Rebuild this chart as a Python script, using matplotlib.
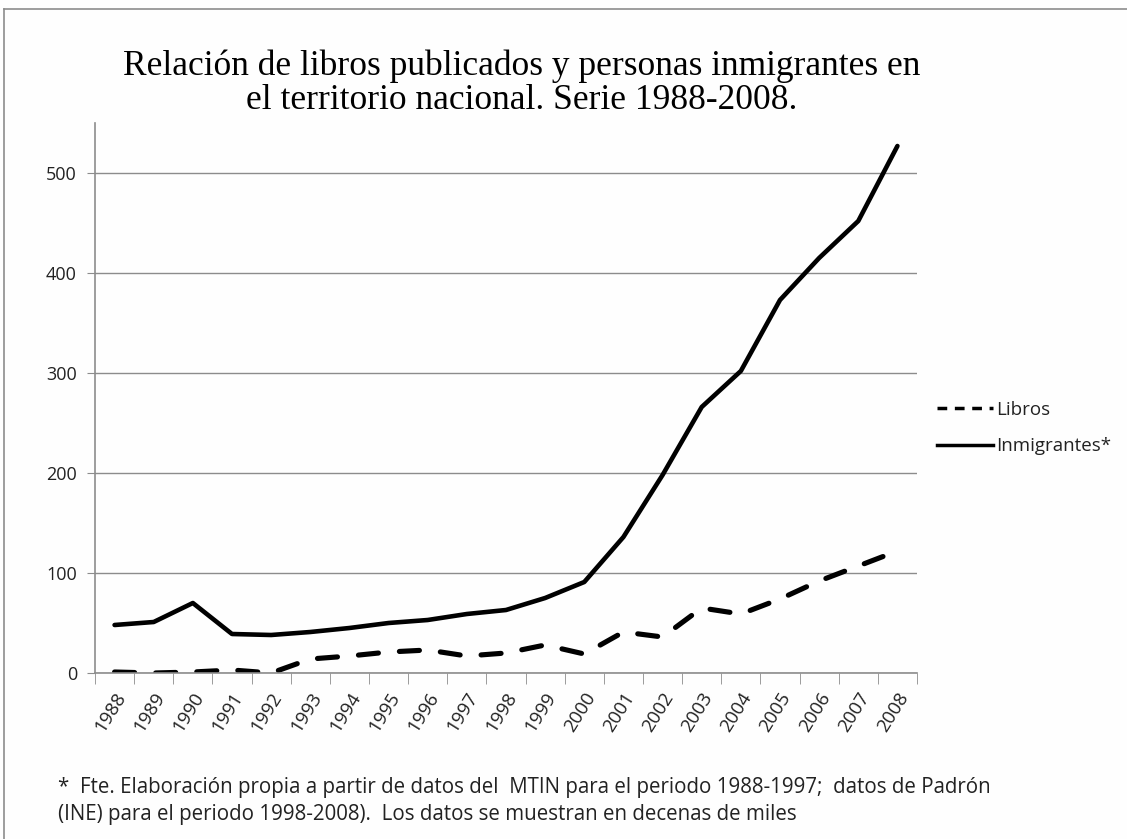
import numpy as np
import matplotlib
matplotlib.use("Agg")
import matplotlib.pyplot as plt
import matplotlib.transforms as mtransforms
from matplotlib.lines import Line2D

# datos (decenas de miles)
years = ['1988', '1989', '1990', '1991', '1992', '1993', '1994', '1995', '1996', '1997',
         '1998', '1999', '2000', '2001', '2002', '2003', '2004', '2005', '2006', '2007', '2008']
libros = [1, 0, 1, 3, 0, 14, 17, 21, 23, 17, 20, 28, 19, 41, 36, 65, 59, 74, 92, 107, 122]
inmigrantes = [48, 51, 70, 39, 38, 41, 45, 50, 53, 59, 63, 75, 91, 136, 198, 266, 302, 373, 415, 452, 527]
yticks = [0, 100, 200, 300, 400, 500]

title = 'Relación de libros publicados y personas inmigrantes en\nel territorio nacional. Serie 1988-2008.'
nota = ('*  Fte. Elaboración propia a partir de datos del  MTIN para el periodo 1988-1997;  datos de Padrón\n'
        '(INE) para el periodo 1998-2008).  Los datos se muestran en decenas de miles')

sans = ['Open Sans', 'DejaVu Sans']
serif = ['Liberation Serif', 'DejaVu Serif']
plt.rcParams['font.family'] = sans

fig = plt.figure(figsize=(11.27, 8.39), dpi=100)
fig.patch.set_facecolor('#fefefe')
ax = fig.add_axes([95 / 1127, 1 - 673 / 839, 822 / 1127, 550 / 839])
ax.set_facecolor('#fefefe')

x = np.arange(len(years))
ax.plot(x, libros, color='black', lw=3.7, dashes=(3.9, 4.1),
        dash_capstyle='round', solid_capstyle='round', label='Libros')
ax.plot(x, inmigrantes, color='black', lw=3.3, solid_capstyle='round',
        solid_joinstyle='round', label='Inmigrantes*')

ax.set_xlim(-0.5, len(years) - 0.5)
ax.set_ylim(0, 550)
ax.set_yticks(yticks)
ax.set_yticklabels([str(v) for v in yticks], fontsize=13, color='#222222')
ax.yaxis.grid(True, color='#8c8c8c', lw=1)
ax.set_axisbelow(True)
ax.tick_params(axis='y', length=6, color='#8c8c8c', pad=7)

# marcas del eje x entre categorías
ax.set_xticks(x)
ax.set_xticks(np.arange(len(years) + 1) - 0.5, minor=True)
ax.tick_params(axis='x', which='major', length=0, pad=15)
ax.tick_params(axis='x', which='minor', length=8, color='#8c8c8c')
ax.set_xticklabels(years, rotation=58, ha='right', va='center',
                   rotation_mode='anchor', fontsize=13.5, color='#222222')
offset = mtransforms.ScaledTranslation(7 / 100, 0, fig.dpi_scale_trans)
for lab in ax.get_xticklabels():
    lab.set_transform(lab.get_transform() + offset)

for s in ['top', 'right']:
    ax.spines[s].set_visible(False)
for s in ['left', 'bottom']:
    ax.spines[s].set_color('#8c8c8c')
    ax.spines[s].set_linewidth(1.2)

handles = [Line2D([], [], color='black', lw=2.5, dashes=(2.8, 2.2)),
           Line2D([], [], color='black', lw=2.5)]
fig.legend(handles, ['Libros', 'Inmigrantes*'], loc='center left',
           bbox_to_anchor=(920 / 1127, 1 - 428 / 839), frameon=False,
           fontsize=13.5, handlelength=3.0, handletextpad=0.15,
           labelspacing=1.0, labelcolor='#222222')

fig.text(522 / 1127, 1 - 83 / 839, title, ha='center', va='center',
         fontsize=25.5, family=serif, linespacing=1.05)
fig.text(58 / 1127, 1 - 801 / 839, nota, ha='left', va='center',
         fontsize=14.8, linespacing=1.35, color='#222222')

# borde del área del gráfico
fig.add_artist(Line2D([4 / 1127, 4 / 1127], [0, 1 - 9 / 839], color='#8c8c8c', lw=1.2))
fig.add_artist(Line2D([4 / 1127, 1], [1 - 9 / 839, 1 - 9 / 839], color='#8c8c8c', lw=1.2))

fig.savefig('out.png', dpi=100, facecolor=fig.get_facecolor())
